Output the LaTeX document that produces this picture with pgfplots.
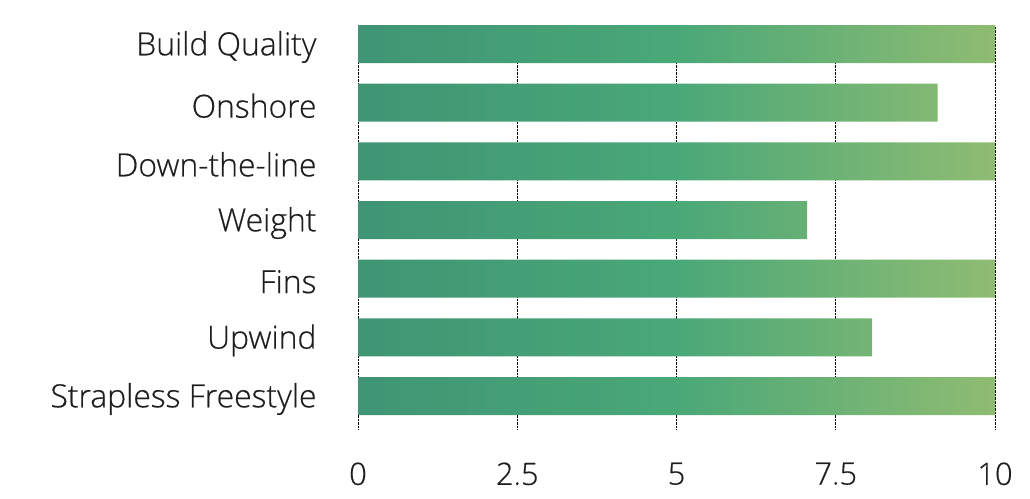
\documentclass[border=0pt]{standalone}
\usepackage{pgfplots}
\pgfplotsset{compat=1.18}
\usepackage{fontspec}
\setmainfont{Open Sans}[UprightFont=* Light, FakeBold=0.5]
\definecolor{gL}{HTML}{3F9574}
\definecolor{gM}{HTML}{4AA878}
\definecolor{gR}{HTML}{8FBC72}
\definecolor{txt}{HTML}{1E1E1E}
\begin{document}
\begin{tikzpicture}
\useasboundingbox (0,0) rectangle (1030bp,499bp);
\begin{axis}[
  at={(358bp,70bp)}, anchor=south west, scale only axis,
  width=637bp, height=403bp,
  xmin=0, xmax=10, ymin=-0.5625, ymax=6.307,
  xbar, bar width=38bp,
  xtick={0,2.5,5,7.5,10}, xticklabels={0,2.5,5,7.5,10},
  ytick={0,...,6},
  yticklabels={Strapless Freestyle, Upwind, Fins, Weight, Down-the-line, Onshore, Build Quality},
  axis line style={draw=none},
  major tick length=0pt,
  xmajorgrids, grid style={black, densely dotted, line width=0.6bp},
  xticklabel style={font=\fontsize{31}{33}\selectfont, text=txt, anchor=north, yshift=-30bp},
  yticklabel style={font=\fontsize{32}{34}\selectfont, text=txt, anchor=east, xshift=-38bp, yshift=-3bp},
  clip=false,
]
\addplot[draw=none, left color=gL, right color=gR, middle color=gM]
  coordinates {(10,0) (8.07,1) (10,2) (7.05,3) (10,4) (9.1,5) (10,6)};
\end{axis}
\end{tikzpicture}
\end{document}
